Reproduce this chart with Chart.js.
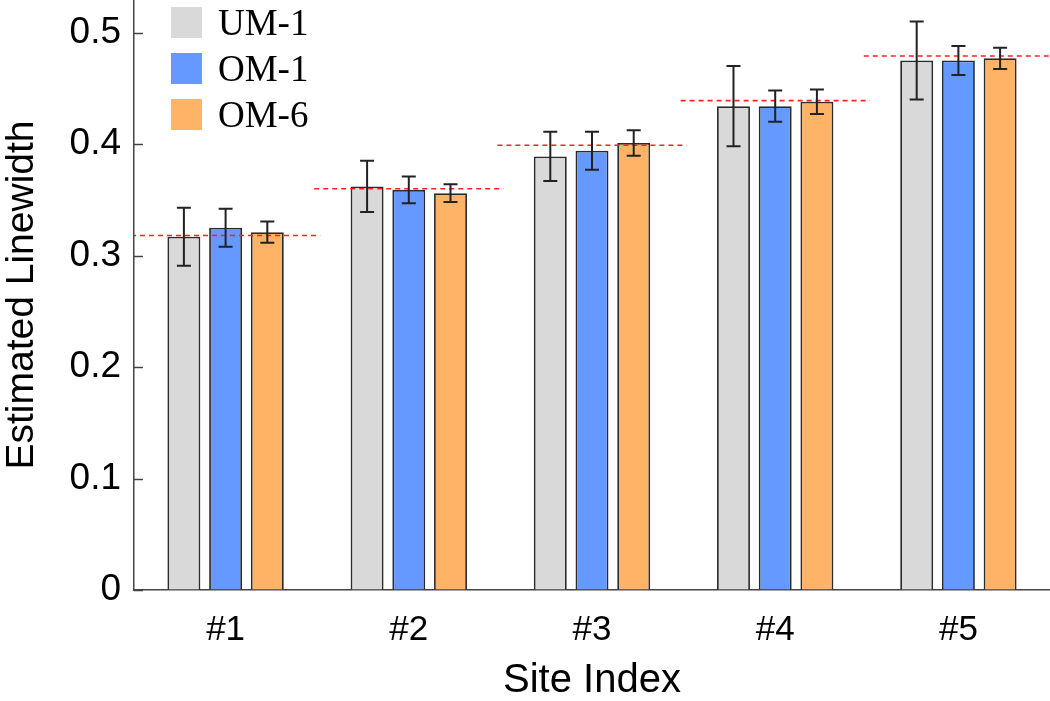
<!DOCTYPE html>
<html>
<head>
<meta charset="utf-8">
<script src="https://cdn.jsdelivr.net/npm/chart.js@4"></script>
<style>
  html, body { margin: 0; padding: 0; background: #fff; }
  #wrap { width: 1050px; height: 701px; }
</style>
</head>
<body>
<div id="wrap"><canvas id="grafico" width="1050" height="701"></canvas></div>
<script>
// data
const sites = ['#1', '#2', '#3', '#4', '#5'];
const seriesNames = ['UM-1', 'OM-1', 'OM-6'];
const um1 = [0.317, 0.362, 0.389, 0.434, 0.475];
const um1Err = [0.026, 0.023, 0.022, 0.036, 0.035];
const om1 = [0.325, 0.359, 0.394, 0.434, 0.475];
const om1Err = [0.017, 0.012, 0.017, 0.014, 0.013];
const om6 = [0.321, 0.356, 0.401, 0.438, 0.477];
const om6Err = [0.0095, 0.008, 0.0115, 0.011, 0.0095];
const trueValues = [0.318, 0.360, 0.399, 0.439, 0.479];
const yTicks = [0, 0.1, 0.2, 0.3, 0.4, 0.5];

const colores = ['#d9d9d9', '#6699ff', '#ffb366'];
const sans = "'Liberation Sans', Arial, Helvetica, sans-serif";
const serif = "'Liberation Serif', 'Times New Roman', serif";

// dashed red reference line across each site
const refLinesPlugin = {
  id: 'refLines',
  afterDatasetsDraw(chart) {
    const { ctx, chartArea, scales: { x, y } } = chart;
    const half = chartArea.width / sites.length / 2 + 3;
    ctx.save();
    ctx.beginPath();
    ctx.rect(chartArea.left, chartArea.top, chartArea.width, chartArea.height);
    ctx.clip();
    ctx.strokeStyle = '#ff2020';
    ctx.lineWidth = 1.6;
    ctx.setLineDash([5, 4]);
    trueValues.forEach((v, i) => {
      const xc = x.getPixelForValue(i);
      const yy = y.getPixelForValue(v);
      ctx.beginPath();
      ctx.moveTo(xc - half, yy);
      ctx.lineTo(xc + half, yy);
      ctx.stroke();
    });
    ctx.restore();
  }
};

// error bars on each bar
const errorBarsPlugin = {
  id: 'errorBars',
  afterDraw(chart) {
    const { ctx, scales: { y } } = chart;
    ctx.save();
    ctx.strokeStyle = '#222';
    ctx.lineWidth = 2;
    chart.data.datasets.forEach((ds, d) => {
      const meta = chart.getDatasetMeta(d);
      meta.data.forEach((bar, i) => {
        const v = ds.data[i];
        const e = ds.errors[i];
        const top = y.getPixelForValue(v + e);
        const bot = y.getPixelForValue(v - e);
        ctx.beginPath();
        ctx.moveTo(bar.x, top);
        ctx.lineTo(bar.x, bot);
        ctx.moveTo(bar.x - 7, top);
        ctx.lineTo(bar.x + 7, top);
        ctx.moveTo(bar.x - 7, bot);
        ctx.lineTo(bar.x + 7, bot);
        ctx.stroke();
      });
    });
    ctx.restore();
  }
};

// inward tick marks on the y axis
const yTickMarks = {
  id: 'yTickMarks',
  afterDraw(chart) {
    const { ctx, chartArea, scales: { y } } = chart;
    ctx.save();
    ctx.strokeStyle = '#444';
    ctx.lineWidth = 1.5;
    yTicks.forEach(t => {
      const yy = Math.round(y.getPixelForValue(t)) + 0.5;
      ctx.beginPath();
      ctx.moveTo(chartArea.left, yy);
      ctx.lineTo(chartArea.left + 9, yy);
      ctx.stroke();
    });
    ctx.restore();
  }
};

// legend inside the plot, top left
const legendBox = {
  id: 'legendBox',
  afterDraw(chart) {
    const { ctx, chartArea } = chart;
    ctx.save();
    ctx.font = '37px ' + serif;
    ctx.textBaseline = 'middle';
    chart.data.datasets.forEach((ds, i) => {
      const bx = chartArea.left + 37;
      const by = chartArea.top + 7 + i * 46;
      ctx.fillStyle = ds.backgroundColor;
      ctx.fillRect(bx, by, 31, 31);
      ctx.fillStyle = '#000';
      ctx.fillText(ds.label, bx + 47, by + 18);
    });
    ctx.restore();
  }
};

const ctx = document.getElementById('grafico').getContext('2d');
new Chart(ctx, {
  type: 'bar',
  data: {
    labels: sites,
    datasets: [
      { label: seriesNames[0], data: um1, errors: um1Err, backgroundColor: colores[0] },
      { label: seriesNames[1], data: om1, errors: om1Err, backgroundColor: colores[1] },
      { label: seriesNames[2], data: om6, errors: om6Err, backgroundColor: colores[2] }
    ].map(ds => Object.assign(ds, {
      borderColor: '#2b2b2b',
      borderWidth: 1.8,
      categoryPercentage: 0.683,
      barPercentage: 0.79
    }))
  },
  options: {
    responsive: false,
    animation: false,
    layout: { padding: 0 },
    plugins: {
      legend: { display: false },
      tooltip: { enabled: false }
    },
    scales: {
      x: {
        grid: { display: true, drawOnChartArea: false, drawTicks: false },
        border: { display: true, color: '#444', width: 1.5 },
        ticks: {
          color: '#000',
          padding: 19,
          font: { family: sans, size: 35 }
        },
        title: {
          display: true,
          text: 'Site Index',
          color: '#000',
          padding: 0,
          font: { family: sans, size: 40, lineHeight: 1 }
        },
        afterFit(scale) {
          scale.height = 111;
          scale.paddingLeft = 0;
          scale.paddingRight = 0;
        }
      },
      y: {
        min: 0,
        max: 0.5293,
        grid: { display: true, drawOnChartArea: false, drawTicks: false },
        border: { display: true, color: '#444', width: 1.5 },
        afterBuildTicks(scale) { scale.ticks = yTicks.map(v => ({ value: v })); },
        ticks: {
          color: '#000',
          padding: 13,
          font: { family: sans, size: 37 },
          callback: v => String(v)
        },
        title: {
          display: true,
          text: 'Estimated Linewidth',
          color: '#000',
          padding: { top: 3, bottom: 0 },
          font: { family: sans, size: 39, lineHeight: 1 }
        },
        afterFit(scale) {
          scale.width = 134;
          scale.paddingTop = 0;
          scale.paddingBottom = 0;
        }
      }
    }
  },
  plugins: [refLinesPlugin, errorBarsPlugin, yTickMarks, legendBox]
});
</script>
</body>
</html>
